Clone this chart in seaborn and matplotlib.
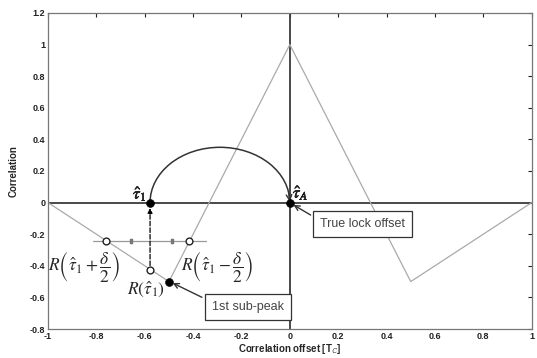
import matplotlib
matplotlib.use("Agg")
import matplotlib.pyplot as plt
import matplotlib.patheffects as pe
from matplotlib.patches import Arc
import pandas as pd
import seaborn as sns

# ----------------------------------------------------------------------
# DATA
# ----------------------------------------------------------------------

# correlation function (triangle shape)
offset = [-1.0, -0.5, 0.0, 0.5, 1.0]
corr = [0.0, -0.5, 1.0, -0.5, 0.0]

# estimated offsets
tau_1 = -0.578
tau_a = 0.0
r_tau_1 = -0.425
sub_peak = (-0.5, -0.5)

# early / late samples around tau_1
side_x = [-0.762, -0.416]
side_y = [-0.245, -0.245]
bar_x = [-0.815, -0.348]
bar_marks_x = [-0.657, -0.486]

x_ticks = [-1, -0.8, -0.6, -0.4, -0.2, 0, 0.2, 0.4, 0.6, 0.8, 1]
x_tick_labels = ["-1", "-0.8", "-0.6", "-0.4", "-0.2", "0", "0.2", "0.4", "0.6", "0.8", "1"]
y_ticks = [-0.8, -0.6, -0.4, -0.2, 0, 0.2, 0.4, 0.6, 0.8, 1, 1.2]
y_tick_labels = ["-0.8", "-0.6", "-0.4", "-0.2", "0", "0.2", "0.4", "0.6", "0.8", "1", "1.2"]

df = pd.DataFrame({"offset": offset, "corr": corr})

# ----------------------------------------------------------------------
# PLOT
# ----------------------------------------------------------------------

sns.set_style("white")
plt.rcParams["font.family"] = ["Liberation Sans", "DejaVu Sans"]
plt.rcParams["mathtext.fontset"] = "stix"

fig = plt.figure(figsize=(5.37, 3.58), dpi=100)
ax = fig.add_axes([0.0894, 0.081, 0.9006, 0.8827])

# axes cross lines
ax.axhline(0, color="#3a3a3a", linewidth=1.3, zorder=1)
ax.axvline(0, color="#3a3a3a", linewidth=1.3, zorder=1)

sns.lineplot(data=df, x="offset", y="corr", color="#aaaaaa", linewidth=0.9,
             ax=ax, zorder=2)

# half ellipse from tau_1 to tau_A
ax.add_patch(Arc(((tau_1 + tau_a) / 2, 0), width=tau_a - tau_1, height=0.70,
                 theta1=0, theta2=180, color="#333333", linewidth=1.1, zorder=3))
ax.annotate("", xy=(tau_a, 0.005), xytext=(tau_a - 0.004, 0.06),
            arrowprops=dict(arrowstyle="->", color="#333333", lw=1.0,
                            shrinkA=0, shrinkB=0), zorder=3)

# dashed arrow from R(tau_1) up to tau_1
ax.annotate("", xy=(tau_1, -0.035), xytext=(tau_1, r_tau_1),
            arrowprops=dict(arrowstyle="-|>", linestyle="--", color="black",
                            lw=0.9, mutation_scale=7, shrinkA=3, shrinkB=0),
            zorder=3)

# horizontal bar with marks
ax.plot(bar_x, [side_y[0], side_y[0]], color="#999999", linewidth=0.9, zorder=2)
ax.plot(bar_marks_x, [side_y[0], side_y[0]], linestyle="none",
        marker=r"$\parallel$", markersize=3.5, color="#777777", zorder=3)

sns.scatterplot(x=side_x + [tau_1], y=side_y + [r_tau_1], marker="o", s=24,
                facecolor="white", edgecolor="#222222", linewidth=1.0, ax=ax,
                zorder=4)
sns.scatterplot(x=[tau_1, tau_a, sub_peak[0]], y=[0, 0, sub_peak[1]], marker="o",
                s=32, color="black", edgecolor="black", ax=ax, zorder=5)

# math labels
bold = [pe.withStroke(linewidth=0.4, foreground="black")]
ax.text(-0.62, 0.06, r"$\hat{\tau}_1$", fontsize=12, ha="center",
        va="center", path_effects=bold)
ax.text(0.045, 0.066, r"$\hat{\tau}_A$", fontsize=12, ha="center",
        va="center", path_effects=bold)
ax.text(-0.851, -0.405, r"$R\left(\hat{\tau}_1+\dfrac{\delta}{2}\right)$",
        fontsize=12.5, ha="center", va="center")
ax.text(-0.30, -0.405, r"$R\left(\hat{\tau}_1-\dfrac{\delta}{2}\right)$",
        fontsize=12.5, ha="center", va="center")
ax.text(-0.595, -0.55, r"$R\left(\hat{\tau}_1\right)$", fontsize=12.5,
        ha="center", va="center")

# boxed callouts
box = dict(boxstyle="square,pad=0.55", facecolor="white", edgecolor="#333333",
           linewidth=0.9)
ax.annotate("True lock offset", xy=(0.01, -0.01), xytext=(0.302, -0.134),
            fontsize=9, ha="center", va="center", color="#444444", bbox=box,
            arrowprops=dict(arrowstyle="->", color="#333333", lw=1.0,
                            relpos=(0, 0.75), shrinkB=1), zorder=6)
ax.annotate("1st sub-peak", xy=(-0.49, -0.505), xytext=(-0.174, -0.66),
            fontsize=9, ha="center", va="center", color="#444444", bbox=box,
            arrowprops=dict(arrowstyle="->", color="#333333", lw=1.0,
                            relpos=(0, 0.9), shrinkB=1), zorder=6)

# axes style (matlab-like)
ax.set_xlim(-1, 1)
ax.set_ylim(-0.8, 1.2)
ax.set_xticks(x_ticks)
ax.set_xticklabels(x_tick_labels)
ax.set_yticks(y_ticks)
ax.set_yticklabels(y_tick_labels)
ax.tick_params(direction="in", length=3, width=0.8, top=True, right=True,
               labelsize=6.5, colors="#222222", pad=2)
for lbl in ax.get_xticklabels() + ax.get_yticklabels():
    lbl.set_fontweight("bold")
for spine in ax.spines.values():
    spine.set_color("#777777")
    spine.set_linewidth(0.9)
ax.grid(False)

ax.set_xlabel(r"Correlation offset [T$_\mathsf{C}$]", fontsize=7, weight="bold",
              labelpad=1)
ax.set_ylabel("Correlation", fontsize=7, weight="bold", labelpad=8)

fig.savefig("out.png", dpi=100)
